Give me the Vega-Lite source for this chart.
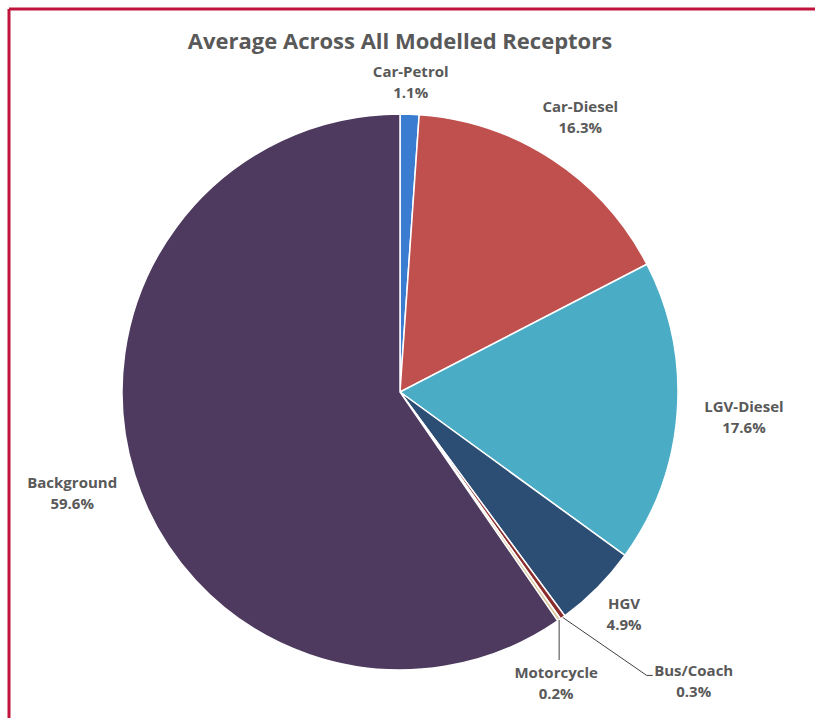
{
  "$schema": "https://vega.github.io/schema/vega-lite/v6.json",
  "width": 806,
  "height": 709,
  "autosize": {"type": "none"},
  "padding": {"left": 9, "top": 9, "right": 0, "bottom": 0},
  "background": "white",
  "config": {"view": {"stroke": "#c0143c", "strokeWidth": 3, "strokeDash": [806, 1515, 709, 0]}},
  "title": {
    "text": "Average Across All Modelled Receptors",
    "font": "Open Sans", "fontSize": 22, "fontWeight": "bold", "color": "#595959",
    "anchor": "middle", "frame": "group", "baseline": "alphabetic", "offset": -62, "dx": -12
  },
  "data": {"values": [
    {"source": "Car-Petrol", "pct": 1.1, "k": 1},
    {"source": "Car-Diesel", "pct": 16.3, "k": 2},
    {"source": "LGV-Diesel", "pct": 17.6, "k": 3},
    {"source": "HGV", "pct": 4.9, "k": 4},
    {"source": "Bus/Coach", "pct": 0.3, "k": 5},
    {"source": "Motorcycle", "pct": 0.2, "k": 6},
    {"source": "Background", "pct": 59.6, "k": 7}
  ]},
  "transform": [
    {"window": [{"op": "sum", "field": "pct", "as": "cum"}], "sort": [{"field": "k"}], "frame": [null, 0]},
    {"calculate": "2*PI*(datum.cum - datum.pct/2)/100", "as": "a"}
  ],
  "layer": [
    {
      "mark": {"type": "arc", "outerRadius": 278, "stroke": "white", "strokeWidth": 1.5},
      "encoding": {
        "x": {"datum": 0, "type": "quantitative", "scale": {"domain": [-391, 415], "nice": false, "zero": false}, "axis": null},
        "y": {"datum": 0, "type": "quantitative", "scale": {"domain": [-326, 383], "nice": false, "zero": false}, "axis": null},
        "theta": {"field": "pct", "type": "quantitative", "stack": true},
        "order": {"field": "k", "type": "quantitative"},
        "color": {"field": "source", "type": "nominal", "legend": null,
          "scale": {"domain": ["Car-Petrol", "Car-Diesel", "LGV-Diesel", "HGV", "Bus/Coach", "Motorcycle", "Background"],
                    "range": ["#3a7dd0", "#c0504d", "#4bacc6", "#2c4e74", "#8c2d2d", "#d8c79a", "#4d3a5e"]}}
      }
    },
    {
      "transform": [
        {"filter": "datum.pct >= 0.5"},
        {"calculate": "308 + 3.7*length(datum.source)*abs(sin(datum.a))", "as": "lr"},
        {"calculate": "datum.lr*sin(datum.a)", "as": "lx"},
        {"calculate": "datum.lr*cos(datum.a)", "as": "ly"},
        {"calculate": "datum.source + '\\n' + format(datum.pct, '.1f') + '%'", "as": "label"}
      ],
      "mark": {"type": "text", "font": "Open Sans", "fontSize": 15, "fontWeight": "bold", "color": "#595959",
               "lineBreak": "\n", "lineHeight": 21, "align": "center", "baseline": "middle", "dy": -10.5},
      "encoding": {
        "x": {"field": "lx", "type": "quantitative", "scale": {"domain": [-391, 415], "nice": false, "zero": false}, "axis": null},
        "y": {"field": "ly", "type": "quantitative", "scale": {"domain": [-326, 383], "nice": false, "zero": false}, "axis": null},
        "text": {"field": "label"}
      }
    },
    {
      "transform": [
        {"filter": "datum.pct < 0.5"},
        {"calculate": "278*sin(datum.a) + (datum.source == 'Bus/Coach' ? 131 : -3)", "as": "lx"},
        {"calculate": "278*cos(datum.a) - 64", "as": "ly"},
        {"calculate": "datum.source + '\\n' + format(datum.pct, '.1f') + '%'", "as": "label"}
      ],
      "mark": {"type": "text", "font": "Open Sans", "fontSize": 15, "fontWeight": "bold", "color": "#595959",
               "lineBreak": "\n", "lineHeight": 21, "align": "center", "baseline": "middle", "dy": -10.5},
      "encoding": {
        "x": {"field": "lx", "type": "quantitative", "scale": {"domain": [-391, 415], "nice": false, "zero": false}, "axis": null},
        "y": {"field": "ly", "type": "quantitative", "scale": {"domain": [-326, 383], "nice": false, "zero": false}, "axis": null},
        "text": {"field": "label"}
      }
    },
    {
      "transform": [
        {"filter": "datum.pct < 0.5"},
        {"calculate": "278*sin(datum.a)", "as": "tx"},
        {"calculate": "278*cos(datum.a)", "as": "ty"},
        {"calculate": "datum.tx + (datum.source == 'Bus/Coach' ? 84 : 0)", "as": "ex"},
        {"calculate": "datum.ty - (datum.source == 'Bus/Coach' ? 58 : 40)", "as": "ey"}
      ],
      "mark": {"type": "rule", "color": "#404040", "strokeWidth": 1},
      "encoding": {
        "x": {"field": "tx", "type": "quantitative", "scale": {"domain": [-391, 415], "nice": false, "zero": false}, "axis": null},
        "y": {"field": "ty", "type": "quantitative", "scale": {"domain": [-326, 383], "nice": false, "zero": false}, "axis": null},
        "x2": {"field": "ex"},
        "y2": {"field": "ey"}
      }
    },
    {
      "transform": [
        {"filter": "datum.source == 'Bus/Coach'"},
        {"calculate": "278*sin(datum.a) + 84", "as": "tx"},
        {"calculate": "278*cos(datum.a) - 58", "as": "ty"},
        {"calculate": "datum.tx + 6", "as": "ex"}
      ],
      "mark": {"type": "rule", "color": "#404040", "strokeWidth": 1},
      "encoding": {
        "x": {"field": "tx", "type": "quantitative", "scale": {"domain": [-391, 415], "nice": false, "zero": false}, "axis": null},
        "y": {"field": "ty", "type": "quantitative", "scale": {"domain": [-326, 383], "nice": false, "zero": false}, "axis": null},
        "x2": {"field": "ex"},
        "y2": {"field": "ty"}
      }
    }
  ]
}
